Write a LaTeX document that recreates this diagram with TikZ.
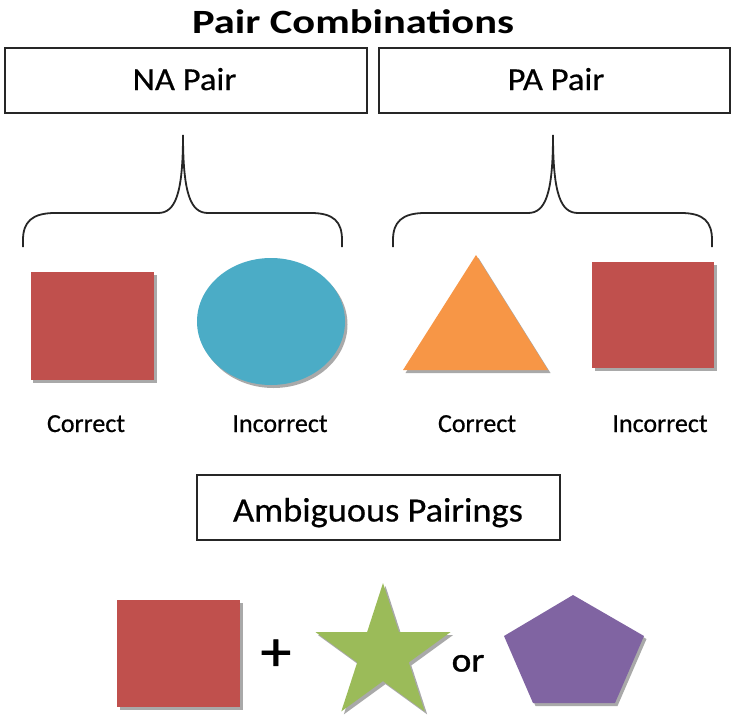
\documentclass[tikz,border=0pt]{standalone}
\usepackage{fontspec}
\setmainfont{Carlito}
\newfontfamily\titlefont[FakeStretch=1.25]{Carlito}
\newfontfamily\boxfont[FakeStretch=1.08,FakeBold=0.5]{Carlito}
\newfontfamily\ambfont[FakeStretch=1.07,FakeBold=0.5]{Carlito}
\newfontfamily\labfont[FakeBold=0.6]{Carlito}
\newfontfamily\orfont[FakeStretch=1.1,FakeBold=1.2]{Carlito}
\usetikzlibrary{shadows}
\definecolor{ored}{HTML}{C0504D}
\definecolor{oblue}{HTML}{4BACC6}
\definecolor{oorange}{HTML}{F79646}
\definecolor{ogreen}{HTML}{9BBB59}
\definecolor{opurple}{HTML}{8064A2}
\begin{document}
\begin{tikzpicture}[x=1pt,y=-1pt,
  shade/.style={drop shadow={shadow xshift=2.5pt,shadow yshift=-3pt,fill=black!45,opacity=0.75}},
  box/.style={draw=black!85, line width=1.8pt, inner sep=0pt},
  boxtext/.style={anchor=base, inner sep=0pt, text=black},
  lab/.style={font=\fontsize{26}{30}\labfont, text=black, inner sep=0pt, anchor=base},
  brace/.style={draw=black!85, line width=1.8pt}]
\useasboundingbox (0,0) rectangle (731,715);
% title
\node[font=\fontsize{34}{40}\titlefont\bfseries, inner sep=0pt, anchor=base] (title) at (353,33) {Pair Combinations};
% top boxes
\node[box, minimum width=362pt, minimum height=65pt] (na) at (186,80.2) {};
\node[box, minimum width=351pt, minimum height=65pt] (pa) at (554.5,80.2) {};
\node[boxtext, font=\fontsize{32}{38}\boxfont] (natext) at (184.5,90) {NA Pair};
\node[boxtext, font=\fontsize{32}{38}\boxfont] (patext) at (556,90) {PA Pair};
% braces
\foreach \dx in {0,370}{
  \begin{scope}[xshift=\dx pt]
  \draw[brace] (23,247) -- (23,240) .. controls (23,222) and (32,213) .. (55,213) -- (158,213)
     .. controls (175,213) and (183,195) .. (183,135)
     .. controls (183,195) and (191,213) .. (208,213) -- (311,213)
     .. controls (334,213) and (342,222) .. (342,240) -- (342,247);
  \end{scope}
}
% shapes, first row
\fill[ored, shade] (30.7,272) rectangle (154,380);
\fill[oblue, shade] (271,321.5) ellipse [x radius=74, y radius=63.5];
\fill[oorange, shade] (476,255) -- (548,370) -- (403,370) -- cycle;
\fill[ored, shade] (592,262) rectangle (714,368);
% labels
\node[lab] (c1) at (86,432) {Correct};
\node[lab] (i1) at (280,432) {Incorrect};
\node[lab] (c2) at (477,432) {Correct};
\node[lab] (i2) at (660,432) {Incorrect};
% ambiguous box
\node[box, minimum width=363pt, minimum height=65pt] (amb) at (378.5,507.5) {};
\node[boxtext, font=\fontsize{34}{40}\ambfont] (ambtext) at (378,521.5) {Ambiguous Pairings};
% bottom row
\fill[ored, shade] (117,600) rectangle (240,707);
\node[font=\fontsize{56}{60}\orfont, inner sep=0pt] (plus) at (276,655) {+};
\fill[ogreen, shade] (383,583) -- (398.9,632.1) -- (450.5,632.1) -- (408.8,662.4) -- (424.7,711.4)
  -- (383,681.1) -- (341.3,711.4) -- (357.2,662.4) -- (315.5,632.1) -- (367.1,632.1) -- cycle;
\node[font=\fontsize{34}{40}\orfont, inner sep=0pt, anchor=base] (or) at (468,671.5) {or};
\fill[opurple, shade] (573,595) -- (644,636) -- (615,703) -- (533,703) -- (504,636) -- cycle;
\end{tikzpicture}
\end{document}
